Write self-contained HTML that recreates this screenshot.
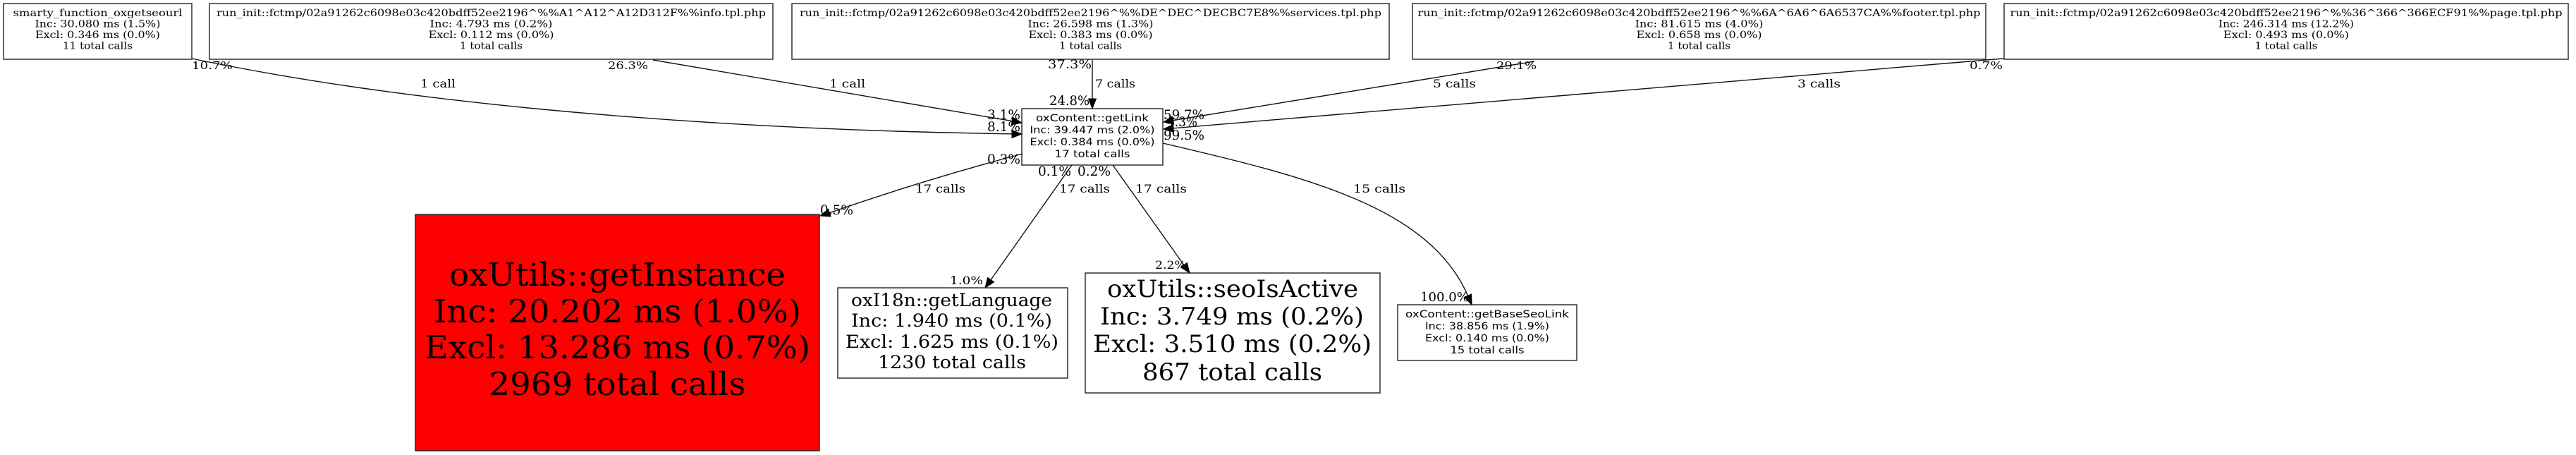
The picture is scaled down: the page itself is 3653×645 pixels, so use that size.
<!DOCTYPE html>
<html><head><meta charset="utf-8"><style>
html,body{margin:0;padding:0;background:#fff;}
svg{display:block;}
.s{font-family:"DejaVu Serif","Liberation Serif",serif;fill:#000;}
.ss{font-family:"DejaVu Sans","Liberation Sans",sans-serif;fill:#000;}
</style></head><body>
<svg width="3653" height="645" viewBox="0 0 3653 645" xmlns="http://www.w3.org/2000/svg">
<rect width="3653" height="645" fill="#fff"/>
<g fill="none" stroke="#222" stroke-width="1.4">
<rect x="5" y="5" width="267" height="79"/>
<rect x="297" y="5" width="799" height="79"/>
<rect x="1123" y="5" width="847" height="79"/>
<rect x="2003" y="5" width="813" height="79"/>
<rect x="2842" y="5" width="800" height="79"/>
<rect x="1449" y="154" width="200" height="80"/>
<rect x="589" y="304" width="573" height="335" fill="#ff0000"/>
<rect x="1188" y="408" width="326" height="128"/>
<rect x="1539" y="387" width="418" height="170"/>
<rect x="1982" y="432" width="254" height="79"/>
</g>
<g fill="none" stroke="#111" stroke-width="1.4">
<path d="M272,83 C640,160 1100,185 1435,189.8"/>
<path d="M926,85 L1435.2,171.6"/>
<path d="M1549,85 L1549,140"/>
<path d="M2176,87 L1663.8,170.7"/>
<path d="M2841,83 L1664,181.8"/>
<path d="M1649,203 C1850,250 2026,292 2081.5,419"/>
<path d="M1450,218 Q1310,255 1176.3,301.7"/>
<path d="M1520,234 L1405.1,396.6"/>
<path d="M1578,234 L1678.9,375.6"/>
</g>
<g fill="#000" stroke="#000" stroke-width="1">
<polygon points="1449,190 1435,184.5 1435,195.5"/>
<polygon points="1449,174 1436.1,166.2 1434.3,177.1"/>
<polygon points="1549,154 1543.5,140 1554.5,140"/>
<polygon points="1650,173 1662.9,165.3 1664.7,176.1"/>
<polygon points="1650,183 1663.5,176.4 1664.4,187.3"/>
<polygon points="2087,432 2076.5,421.3 2086.6,417"/>
<polygon points="1163,306 1174.6,296.4 1178,306.9"/>
<polygon points="1397,408 1400.6,393.4 1409.6,399.7"/>
<polygon points="1687,387 1674.4,378.8 1683.4,372.4"/>
</g>

<!-- top boxes -->
<g class="s" font-size="14" text-anchor="middle">
<text x="138.5" y="23" textLength="240" lengthAdjust="spacingAndGlyphs">smarty_function_oxgetseourl</text>
<text x="138.5" y="38.5" textLength="178" lengthAdjust="spacingAndGlyphs">Inc: 30.080 ms (1.5%)</text>
<text x="138.5" y="54" textLength="177" lengthAdjust="spacingAndGlyphs">Excl: 0.346 ms (0.0%)</text>
<text x="138.5" y="69.5" textLength="99" lengthAdjust="spacingAndGlyphs">11 total calls</text>

<text x="696.5" y="23" textLength="779" lengthAdjust="spacingAndGlyphs">run_init::fctmp/02a91262c6098e03c420bdff52ee2196^%%A1^A12^A12D312F%%info.tpl.php</text>
<text x="696.5" y="38.5" textLength="174" lengthAdjust="spacingAndGlyphs">Inc: 4.793 ms (0.2%)</text>
<text x="696.5" y="54" textLength="178" lengthAdjust="spacingAndGlyphs">Excl: 0.112 ms (0.0%)</text>
<text x="696.5" y="69.5" textLength="89" lengthAdjust="spacingAndGlyphs">1 total calls</text>

<text x="1546.5" y="23" textLength="825" lengthAdjust="spacingAndGlyphs">run_init::fctmp/02a91262c6098e03c420bdff52ee2196^%%DE^DEC^DECBC7E8%%services.tpl.php</text>
<text x="1546.5" y="38.5" textLength="178" lengthAdjust="spacingAndGlyphs">Inc: 26.598 ms (1.3%)</text>
<text x="1546.5" y="54" textLength="176" lengthAdjust="spacingAndGlyphs">Excl: 0.383 ms (0.0%)</text>
<text x="1546.5" y="69.5" textLength="89" lengthAdjust="spacingAndGlyphs">1 total calls</text>

<text x="2409.5" y="23" textLength="798" lengthAdjust="spacingAndGlyphs">run_init::fctmp/02a91262c6098e03c420bdff52ee2196^%%6A^6A6^6A6537CA%%footer.tpl.php</text>
<text x="2409.5" y="38.5" textLength="182" lengthAdjust="spacingAndGlyphs">Inc: 81.615 ms (4.0%)</text>
<text x="2409.5" y="54" textLength="178" lengthAdjust="spacingAndGlyphs">Excl: 0.658 ms (0.0%)</text>
<text x="2409.5" y="69.5" textLength="89" lengthAdjust="spacingAndGlyphs">1 total calls</text>

<text x="3242" y="23" textLength="783" lengthAdjust="spacingAndGlyphs">run_init::fctmp/02a91262c6098e03c420bdff52ee2196^%%36^366^366ECF91%%page.tpl.php</text>
<text x="3242" y="38.5" textLength="192" lengthAdjust="spacingAndGlyphs">Inc: 246.314 ms (12.2%)</text>
<text x="3242" y="54" textLength="178" lengthAdjust="spacingAndGlyphs">Excl: 0.493 ms (0.0%)</text>
<text x="3242" y="69.5" textLength="89" lengthAdjust="spacingAndGlyphs">1 total calls</text>
</g>

<!-- central node -->
<g class="ss" font-size="14" text-anchor="middle">
<text x="1549" y="172" textLength="160" lengthAdjust="spacingAndGlyphs">oxContent::getLink</text>
<text x="1549" y="189" textLength="177" lengthAdjust="spacingAndGlyphs">Inc: 39.447 ms (2.0%)</text>
<text x="1549" y="206" textLength="177" lengthAdjust="spacingAndGlyphs">Excl: 0.384 ms (0.0%)</text>
<text x="1549" y="223" textLength="107" lengthAdjust="spacingAndGlyphs">17 total calls</text>

<text x="2109" y="450" textLength="232" lengthAdjust="spacingAndGlyphs">oxContent::getBaseSeoLink</text>
<text x="2109" y="467" textLength="176" lengthAdjust="spacingAndGlyphs">Inc: 38.856 ms (1.9%)</text>
<text x="2109" y="484" textLength="176" lengthAdjust="spacingAndGlyphs">Excl: 0.140 ms (0.0%)</text>
<text x="2109" y="501" textLength="105" lengthAdjust="spacingAndGlyphs">15 total calls</text>
</g>

<!-- red node -->
<g class="s" font-size="45" text-anchor="middle">
<text x="875.5" y="405" textLength="477" lengthAdjust="spacingAndGlyphs">oxUtils::getInstance</text>
<text x="875.5" y="457" textLength="521" lengthAdjust="spacingAndGlyphs">Inc: 20.202 ms (1.0%)</text>
<text x="875.5" y="508" textLength="547" lengthAdjust="spacingAndGlyphs">Excl: 13.286 ms (0.7%)</text>
<text x="875.5" y="560" textLength="364" lengthAdjust="spacingAndGlyphs">2969 total calls</text>
</g>

<!-- seoIsActive -->
<g class="s" font-size="34" text-anchor="middle">
<text x="1748" y="421" textLength="356" lengthAdjust="spacingAndGlyphs">oxUtils::seoIsActive</text>
<text x="1747" y="460" textLength="374" lengthAdjust="spacingAndGlyphs">Inc: 3.749 ms (0.2%)</text>
<text x="1747.5" y="499" textLength="395" lengthAdjust="spacingAndGlyphs">Excl: 3.510 ms (0.2%)</text>
<text x="1747.5" y="539" textLength="255" lengthAdjust="spacingAndGlyphs">867 total calls</text>
</g>

<!-- getLanguage -->
<g class="s" font-size="25" text-anchor="middle">
<text x="1349.5" y="434" textLength="285" lengthAdjust="spacingAndGlyphs">oxI18n::getLanguage</text>
<text x="1349.5" y="463" textLength="285" lengthAdjust="spacingAndGlyphs">Inc: 1.940 ms (0.1%)</text>
<text x="1350" y="493" textLength="302" lengthAdjust="spacingAndGlyphs">Excl: 1.625 ms (0.1%)</text>
<text x="1350" y="522" textLength="210" lengthAdjust="spacingAndGlyphs">1230 total calls</text>
</g>

<!-- edge labels -->
<g class="s" font-size="16">
<text x="596" y="124" textLength="50" lengthAdjust="spacingAndGlyphs">1 call</text>
<text x="1176" y="124" textLength="51" lengthAdjust="spacingAndGlyphs">1 call</text>
<text x="1553" y="124" textLength="57" lengthAdjust="spacingAndGlyphs">7 calls</text>
<text x="2032" y="124" textLength="61" lengthAdjust="spacingAndGlyphs">5 calls</text>
<text x="2549" y="124" textLength="61" lengthAdjust="spacingAndGlyphs">3 calls</text>
<text x="1298" y="273" textLength="71" lengthAdjust="spacingAndGlyphs">17 calls</text>
<text x="1502" y="273" textLength="72" lengthAdjust="spacingAndGlyphs">17 calls</text>
<text x="1610" y="273" textLength="73" lengthAdjust="spacingAndGlyphs">17 calls</text>
<text x="1919" y="273" textLength="74" lengthAdjust="spacingAndGlyphs">15 calls</text>
</g>

<!-- percentage labels -->
<g class="s" font-size="15">
<text x="272" y="98" textLength="58" lengthAdjust="spacingAndGlyphs">10.7%</text>
<text x="862" y="98" textLength="57" lengthAdjust="spacingAndGlyphs">26.3%</text>
<text x="2122" y="98" textLength="57" lengthAdjust="spacingAndGlyphs">29.1%</text>
<text x="2793" y="98" textLength="47" lengthAdjust="spacingAndGlyphs">0.7%</text>
</g>
<g class="s" font-size="17">
<text x="1486" y="97" textLength="62" lengthAdjust="spacingAndGlyphs">37.3%</text>
</g>
<g class="s" font-size="19">
<text x="1488" y="149" textLength="57" lengthAdjust="spacingAndGlyphs">24.8%</text>
<text x="1400" y="169" textLength="47" lengthAdjust="spacingAndGlyphs">3.1%</text>
<text x="1400" y="186" textLength="47" lengthAdjust="spacingAndGlyphs">8.1%</text>
<text x="1400" y="232" textLength="47" lengthAdjust="spacingAndGlyphs">0.3%</text>
<text x="1650" y="169" textLength="58" lengthAdjust="spacingAndGlyphs">59.7%</text>
<text x="1655" y="179" textLength="43" lengthAdjust="spacingAndGlyphs">4.3%</text>
<text x="1650" y="198" textLength="58" lengthAdjust="spacingAndGlyphs">99.5%</text>
<text x="1472" y="249" textLength="47" lengthAdjust="spacingAndGlyphs">0.1%</text>
<text x="1528" y="249" textLength="47" lengthAdjust="spacingAndGlyphs">0.2%</text>
<text x="1163" y="304" textLength="47" lengthAdjust="spacingAndGlyphs">0.5%</text>
</g>
<g class="s" font-size="16">
<text x="1347" y="403" textLength="47" lengthAdjust="spacingAndGlyphs">1.0%</text>
<text x="1638" y="381" textLength="44" lengthAdjust="spacingAndGlyphs">2.2%</text>
</g>
<g class="s" font-size="18">
<text x="2014" y="427" textLength="69" lengthAdjust="spacingAndGlyphs">100.0%</text>
</g>
</svg>
</body></html>
